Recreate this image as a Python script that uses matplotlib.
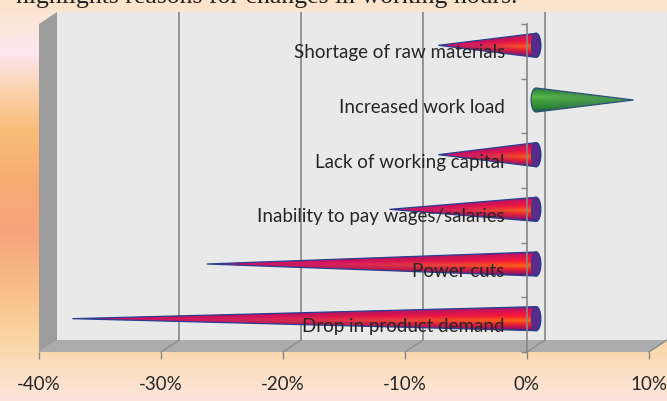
import numpy as np
import matplotlib
matplotlib.use("Agg")
import matplotlib.pyplot as plt
from matplotlib.patches import Polygon, Ellipse
from matplotlib.transforms import IdentityTransform
from matplotlib.colors import LinearSegmentedColormap

# data: change in working hours by reason (%)
categories = ["Drop in product demand", "Power cuts", "Inability to pay wages/salaries",
              "Lack of working capital", "Increased work load", "Shortage of raw materials"]
changes = [-38, -27, -12, -8, 8, -8]
xticks = [-40, -30, -20, -10, 0, 10]
xticklabels = ["-40%", "-30%", "-20%", "-10%", "0%", "10%"]

W, H = 667, 401
fig = plt.figure(figsize=(W / 100, H / 100), dpi=100)


def px_rect(l, t, r, b):
    return [l / W, 1 - b / H, (r - l) / W, (b - t) / H]


# background gradient
bg = fig.add_axes([0, 0, 1, 1], zorder=-5)
bg_cmap = LinearSegmentedColormap.from_list("bg", [
    (0.00, "#fbe4c9"), (0.05, "#fce6d8"), (0.13, "#fde6ee"), (0.22, "#fbd3b0"),
    (0.32, "#f9bd7a"), (0.45, "#f7ac72"), (0.58, "#f6a47c"), (0.72, "#f9bd88"),
    (0.83, "#fad39e"), (0.90, "#fbdcb8"), (1.00, "#fde5dc")])
bg.imshow(np.linspace(0, 1, 256)[:, None], cmap=bg_cmap, aspect="auto",
          extent=[0, 1, 0, 1], origin="upper")
bg.axis("off")

# caption line running off the top edge
fig.text(517 / W, 1 - 2.5 / H, "highlights reasons for changes in working hours.",
         ha="right", va="baseline", fontsize=18.5, family="Liberation Serif", color="#222222")

# three planes of the 3d box: back wall, cone plane, front axis plane
ax_back = fig.add_axes(px_rect(57, 12, 667, 340), zorder=0)
ax_mid = fig.add_axes(px_rect(48, 18, 658, 346), zorder=1)
ax_front = fig.add_axes(px_rect(39, 24, 649, 352), zorder=2)
for a in (ax_back, ax_mid, ax_front):
    a.set_xlim(-40, 10)
    a.set_ylim(-0.5, len(categories) - 0.5)

grid_col = "#8c8c8c"
ax_back.set_facecolor("#e9e9e9")
for xt in xticks[1:-1]:
    ax_back.axvline(xt, color=grid_col, lw=1.3)
ax_back.set_xticks([])
ax_back.set_yticks([])
for s in ["left", "top", "bottom"]:
    ax_back.spines[s].set_visible(False)
ax_back.spines["right"].set_color("#a8a8a8")

# side wall and floor
ytop = len(categories) - 0.5
back = lambda x, y: ax_back.transData.transform((x, y))
front = lambda x, y: ax_front.transData.transform((x, y))
floor = Polygon([back(-40, -0.5), back(10, -0.5), front(10, -0.5), front(-40, -0.5)],
                closed=True, facecolor="#acacac", edgecolor="none",
                transform=IdentityTransform(), clip_on=False)
ax_back.add_artist(floor)
wall = Polygon([back(-40, -0.5), back(-40, ytop), front(-40, ytop), front(-40, -0.5)],
               closed=True, facecolor="#9c9c9c", edgecolor="none",
               transform=IdentityTransform(), clip_on=False)
ax_back.add_artist(wall)
for xt in xticks[1:]:
    p0, p1 = back(xt, -0.5), front(xt, -0.5)
    ax_back.add_artist(plt.Line2D([p0[0], p1[0]], [p0[1], p1[1]], color=grid_col, lw=1,
                                  transform=IdentityTransform(), clip_on=False))

# cones
red_base = LinearSegmentedColormap.from_list("rb", [
    (0.0, "#3a2a80"), (0.12, "#b0105a"), (0.3, "#ff2a20"), (0.42, "#ff6a10"),
    (0.6, "#ff1a30"), (0.85, "#d8105a"), (1.0, "#4a2a8a")])
red_tip = LinearSegmentedColormap.from_list("rt", [
    (0.0, "#3a3a8a"), (0.3, "#a01070"), (0.5, "#d0106a"), (0.7, "#a01070"), (1.0, "#3a3a8a")])
green_base = LinearSegmentedColormap.from_list("gb", [
    (0.0, "#1e5a4a"), (0.2, "#2f8a2f"), (0.45, "#3fa03a"), (0.62, "#5cb84a"),
    (0.8, "#3a9a35"), (1.0, "#2a6a55")])
green_tip = LinearSegmentedColormap.from_list("gt", [
    (0.0, "#2a5a6a"), (0.5, "#4a9a50"), (1.0, "#2a5a6a")])

h = 0.22
ew = 0.8
for i, v in enumerate(changes):
    if v < 0:
        cb, ct, edge = red_base, red_tip, "#2b3d8f"
    else:
        cb, ct, edge = green_base, green_tip, "#2c4f7a"
    side = -1 if v < 0 else 1
    th = np.linspace(np.pi / 2, 3 * np.pi / 2, 25)
    arc = np.column_stack([-side * (ew / 2) * np.abs(np.cos(th)), i + h * np.sin(th)])
    pts = np.vstack([[v, i], arc, [v, i]])
    body = Polygon(pts, closed=True, facecolor="none", edgecolor=edge, lw=0.9, zorder=3)
    ax_mid.add_patch(body)

    # shading: base colours near the wide end, darker tones toward the tip
    x0, x1 = min(v, -ew / 2), max(v, ew / 2)
    nx, ny = 300, 60
    t = np.linspace(0, 1, ny)[:, None]
    xs = np.linspace(x0, x1, nx)[None, :]
    u = np.clip(1 - xs / v, 0, 1)
    w = u ** 1.5
    img = cb(t)[:, :, :3] * w[..., None] + ct(t)[:, :, :3] * (1 - w[..., None])
    im = ax_mid.imshow(img, extent=[x0, x1, i - h, i + h], origin="lower",
                       aspect="auto", zorder=2, interpolation="bilinear")
    im.set_clip_path(body)

    if v < 0:
        ax_mid.add_patch(Ellipse((0, i), ew * 0.9, 2 * h, facecolor="#5a2a8c",
                                 edgecolor=edge, lw=0.9, zorder=4))

for s in ax_mid.spines.values():
    s.set_visible(False)
ax_mid.set_facecolor("none")
ax_mid.set_xticks([])
ax_mid.set_yticks([])

# front axis plane: ticks and labels
ax_front.set_facecolor("none")
for s in ["top", "right", "bottom"]:
    ax_front.spines[s].set_visible(False)
ax_front.spines["left"].set_position(("data", 0))
ax_front.spines["left"].set_color("#868686")
ax_front.spines["left"].set_linewidth(1.2)
ax_front.set_yticks(range(len(categories)))
ax_front.set_yticklabels(categories, fontsize=13.5, family="Lato", color="#262626")
ax_front.set_yticks(np.arange(-0.5, len(categories)), minor=True)
ax_front.tick_params(axis="y", which="major", length=0, pad=16)
ax_front.tick_params(axis="y", which="minor", length=4, color="#868686", width=1)
ax_front.set_xticks(xticks)
ax_front.set_xticklabels(xticklabels, fontsize=13.5, family="Lato", color="#262626")
ax_front.tick_params(axis="x", length=5, color="#868686", width=1, pad=12)

fig.savefig("out.png", dpi=100)
